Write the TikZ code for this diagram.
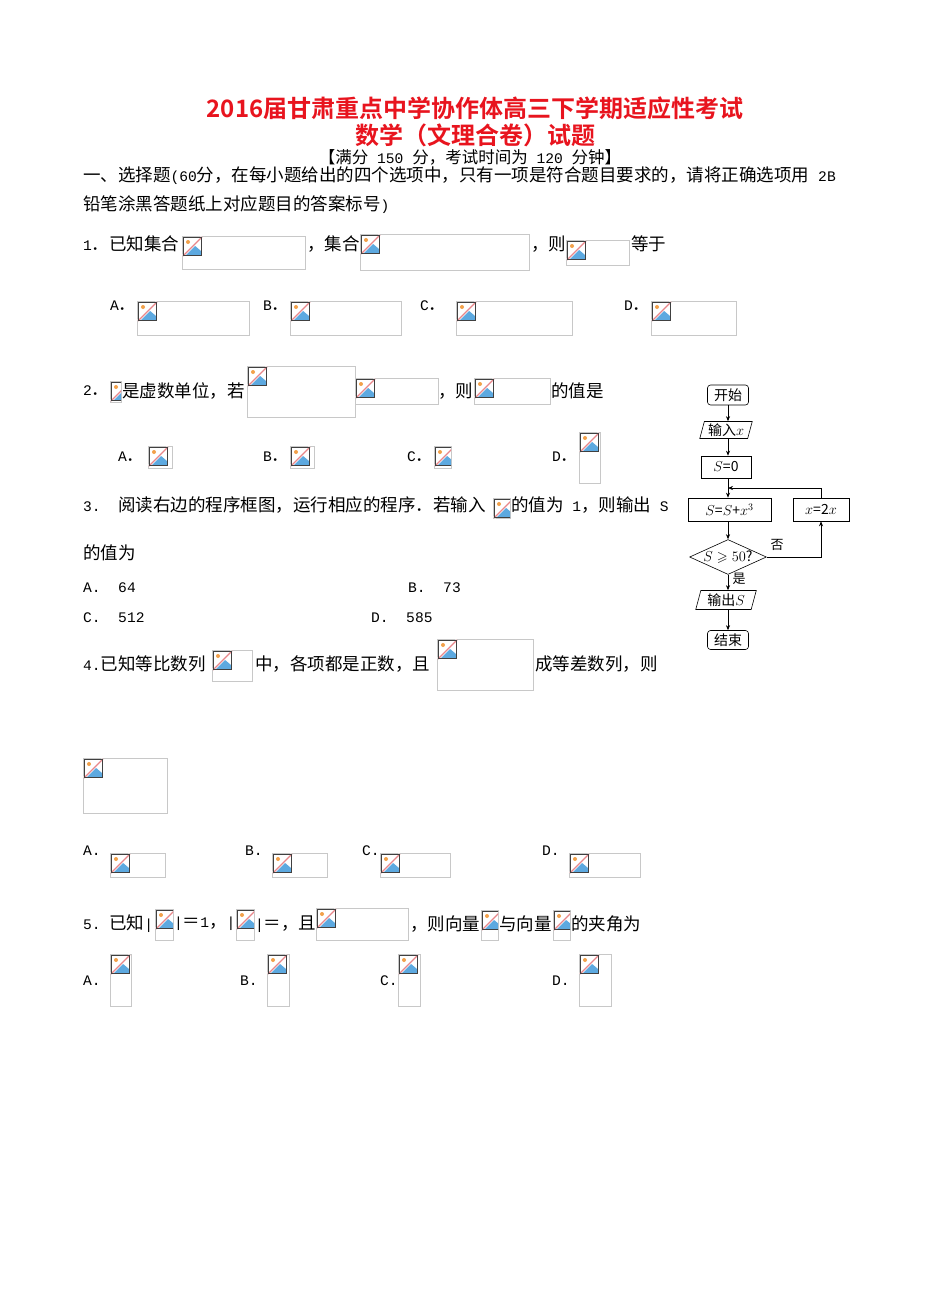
\documentclass[tikz,border=0pt]{standalone}
\usepackage{amssymb}
\usepackage{fontspec}
\setmainfont{Noto Sans CJK SC}
\newfontfamily\titlefont{Noto Sans CJK SC Bold}
\newfontfamily\monof{Liberation Mono}
\newcommand\m[1]{{\monof\fontsize{14.6}{14.6}\selectfont #1}}
\definecolor{boxg}{HTML}{C8C8C8}
\definecolor{icb}{HTML}{5DA9E0}
\definecolor{icr}{HTML}{E8868A}
\definecolor{ico}{HTML}{F2A14B}
\definecolor{titr}{HTML}{E8141E}
\newcommand\bimg[4]{%
 \draw[boxg,line width=0.8pt] (#1,#2) rectangle (#3,#4);
 \begin{scope}\clip (#1,#2) rectangle (#3,#4);
 \fill[icb] ({#1+3},{#2+19}) -- ({#1+12},{#2+9}) -- ({#1+19},{#2+15}) -- ({#1+19},{#2+19}) -- cycle;
 \fill[ico] ({#1+6},{#2+6}) circle (2);
 \draw[white,line width=2.5pt] ({#1+1},{#2+20}) -- ({#1+20},{#2+1});
 \draw[icr,line width=1.2pt] ({#1+1},{#2+20}) -- ({#1+20},{#2+1});
 \draw[black!75,line width=1pt] ({#1+1.5},{#2+1.5}) rectangle ({#1+19.5},{#2+19.5});
 \end{scope}}
\tikzset{t/.style={anchor=west,inner sep=0pt,font=\fontsize{17.5}{17.5}\selectfont},
 fb/.style={draw,line width=0.6pt,minimum height=18pt,inner sep=1pt,font=\fontsize{14}{14}\selectfont},
 ar/.style={-{Stealth[length=5pt,width=4pt]},line width=0.6pt}}
\usetikzlibrary{shapes.geometric,arrows.meta}
\begin{document}
\begin{tikzpicture}[x=1pt,y=-1pt]
\useasboundingbox[fill=white] (0,0) rectangle (950,1316);
\node[font=\fontsize{24}{24}\selectfont\titlefont,text=titr] at (475,108) {2016届甘肃重点中学协作体高三下学期适应性考试};
\node[font=\fontsize{24}{24}\selectfont\titlefont,text=titr] at (475,135) {数学（文理合卷）试题};
\node[font=\fontsize{16.5}{16.5}\selectfont] at (470,157) {【满分\m{ 150 }分，考试时间为\m{ 120 }分钟】};
\node[t] at (83,176) {一、选择题\m{(60}分，在每小题给出的四个选项中，只有一项是符合题目要求的，请将正确选项用\m{ 2B}};
\node[t] at (83,205) {铅笔涂黑答题纸上对应题目的答案标号\m{)}};
% Q1
\node[t] at (83,244) {\m{1}．已知集合};
\bimg{182}{236}{305}{269}
\node[t] at (307,244) {，集合};
\bimg{360}{234}{529}{270}
\node[t] at (531,244) {，则};
\bimg{566}{240}{629}{265}
\node[t] at (631,244) {等于};
\node[t] at (110,306) {\m{A}．}; \bimg{137}{301}{249}{335}
\node[t] at (263,306) {\m{B}．}; \bimg{290}{301}{401}{335}
\node[t] at (420,306) {\m{C}．}; \bimg{456}{301}{572}{335}
\node[t] at (624,306) {\m{D}．}; \bimg{651}{301}{736}{335}
% Q2
\node[t] at (83,391) {\m{2}．};
\bimg{110}{381}{121}{402}
\node[t] at (122,391) {是虚数单位，若};
\bimg{247}{366}{355}{417}
\bimg{355}{378}{438}{404}
\node[t] at (438,391) {，则};
\bimg{474}{378}{550}{404}
\node[t] at (551,391) {的值是};
\node[t] at (118,457) {\m{A}．}; \bimg{148}{446}{172}{468}
\node[t] at (263,457) {\m{B}．}; \bimg{290}{446}{314}{468}
\node[t] at (407,457) {\m{C}．}; \bimg{434}{446}{451}{468}
\node[t] at (552,457) {\m{D}．}; \bimg{579}{432}{600}{483}
% Q3
\node[t] at (83,505) {\m{3.\ \ }阅读右边的程序框图，运行相应的程序．若输入};
\bimg{493}{498}{510}{518}
\node[t] at (511,505) {的值为\m{ 1}，则输出\m{ S}};
\node[t] at (83,553) {的值为};
\node[t] at (83,588) {\m{A.\ \ 64}};
\node[t] at (408,588) {\m{B.\ \ 73}};
\node[t] at (83,618) {\m{C.\ \ 512}};
\node[t] at (371,618) {\m{D.\ \ 585}};
% Q4
\node[t] at (83,664) {\m{4.}已知等比数列};
\bimg{212}{650}{252}{681}
\node[t] at (255,664) {中，各项都是正数，且};
\bimg{437}{639}{533}{690}
\node[t] at (535,664) {成等差数列，则};
\bimg{83}{758}{167}{813}
\node[t] at (83,851) {\m{A.}}; \bimg{110}{853}{165}{877}
\node[t] at (245,851) {\m{B.}}; \bimg{272}{853}{327}{877}
\node[t] at (362,851) {\m{C.}}; \bimg{380}{853}{450}{877}
\node[t] at (542,851) {\m{D.}}; \bimg{569}{853}{640}{877}
% Q5
\node[t] at (83,924) {\m{5.\ }已知\m{|}};
\bimg{155}{909}{173}{940}
\node[t] at (174,924) {\m{|}＝\m{1}，\m{|}};
\bimg{236}{909}{254}{940}
\node[t] at (255,924) {\m{|}＝，且};
\bimg{316}{908}{408}{940}
\node[t] at (410,924) {，则向量};
\bimg{481}{910}{498}{940}
\node[t] at (499,924) {与向量};
\bimg{553}{910}{570}{940}
\node[t] at (571,924) {的夹角为};
\node[t] at (83,981) {\m{A.}}; \bimg{110}{954}{131}{1006}
\node[t] at (240,981) {\m{B.}}; \bimg{267}{954}{289}{1006}
\node[t] at (380,981) {\m{C.}}; \bimg{398}{954}{420}{1006}
\node[t] at (552,981) {\m{D.}}; \bimg{579}{954}{611}{1006}
% flowchart
\node[fb,rounded corners=3pt,minimum width=41pt,minimum height=20pt] (st) at (728,395) {开始};
\node[fb,trapezium,trapezium left angle=75,trapezium right angle=105,minimum width=48pt,minimum height=17pt] (in) at (726,430) {输入$x$};
\node[fb,minimum width=50pt,minimum height=22pt] (s0) at (726,467) {$S$=0};
\node[fb,minimum width=83pt,minimum height=23pt] (s1) at (729.5,509.5) {$S$=$S$+$x^3$};
\node[fb,minimum width=56pt,minimum height=23pt] (x2) at (821,509.5) {$x$=2$x$};
\node[fb,diamond,aspect=2.2,inner sep=0pt,minimum width=65pt,minimum height=30pt] (d) at (728,557) {$S\geqslant 50$?};
\node[fb,trapezium,trapezium left angle=75,trapezium right angle=105,minimum width=48pt,minimum height=19pt] (out) at (726,600) {输出$S$};
\node[fb,rounded corners=3pt,minimum width=41pt,minimum height=19pt] (en) at (728,640) {结束};
\coordinate (j) at (728,488);
\draw[ar] (st.south) -- (728,|-in.north);
\draw[ar] (728,|-in.south) -- (728,|-s0.north);
\draw[ar] (728,|-s0.south) -- (728,|-s1.north);
\draw[ar] (728,|-s1.south) -- (d.north);
\draw[ar] (d.south) -- (728,|-out.north);
\draw[ar] (728,|-out.south) -- (en.north);
\draw[ar] (d.east) -| (x2.south);
\draw[ar] (x2.north) |- (j);
\node[font=\fontsize{13}{13}\selectfont] at (777,545) {否};
\node[font=\fontsize{13}{13}\selectfont] at (739,579) {是};
\end{tikzpicture}
\end{document}
